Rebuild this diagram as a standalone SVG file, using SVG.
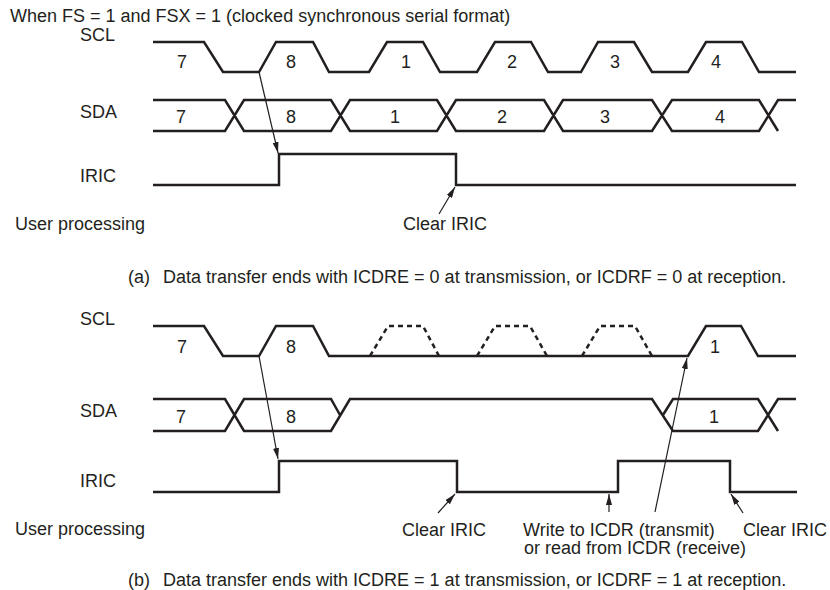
<svg xmlns="http://www.w3.org/2000/svg" width="830" height="590" viewBox="0 0 830 590">
<style>
text{font-family:"Liberation Sans",Arial,sans-serif;font-size:18px;fill:#231f20}
.d{text-anchor:middle}
.w{fill:none;stroke:#231f20;stroke-width:2.5;stroke-linejoin:miter}
.dash{fill:none;stroke:#231f20;stroke-width:2.5;stroke-dasharray:5 4}
.a{fill:none;stroke:#231f20;stroke-width:1.2}
</style>
<defs>
<marker id="ah" viewBox="0 0 11 6" refX="11" refY="3" markerWidth="11" markerHeight="6" orient="auto" markerUnits="userSpaceOnUse"><path d="M0,0 L11,3 L0,6 z" fill="#231f20"/></marker>
</defs>
<rect width="830" height="590" fill="#fff"/>
<text x="10" y="22">When FS = 1 and FSX = 1 (clocked synchronous serial format)</text>

<g id="a-scl">
<text x="80" y="41">SCL</text>
<path class="w" d="M153,42 H204 L223,72 H259 L276,42 H313 L329,72 H369 L387,42 H423 L440,72 H477 L495,42 H531 L548,72 H581 L598,42 H634 L652,72 H688 L706,42 H742 L759,72 H796"/>
<text class="d" x="182" y="68">7</text><text class="d" x="291" y="68">8</text><text class="d" x="406" y="68">1</text><text class="d" x="512" y="68">2</text><text class="d" x="615" y="68">3</text><text class="d" x="716" y="68">4</text>
</g>
<g id="a-sda">
<text x="80" y="118">SDA</text>
<path class="w" d="M153,100 H225 L244,131 H331 L350,100 H437 L456,131 H544 L563,100 H652 L672,131 H759 L778,100 H796 M153,131 H225 L244,100 H331 L350,131 H437 L456,100 H544 L563,131 H652 L672,100 H759 L778,131"/>
<text class="d" x="181" y="123">7</text><text class="d" x="291" y="123">8</text><text class="d" x="395" y="123">1</text><text class="d" x="502" y="123">2</text><text class="d" x="605" y="123">3</text><text class="d" x="720" y="123">4</text>
</g>
<g id="a-iric">
<text x="80" y="182">IRIC</text>
<path class="w" d="M153,185 H279 V154 H456 V185 H796"/>
</g>
<g id="a-user">
<text x="15" y="230">User processing</text>
<text x="403" y="230">Clear IRIC</text>
</g>
<text x="128" y="283">(a)<tspan x="163">Data transfer ends with ICDRE = 0 at transmission, or ICDRF = 0 at reception.</tspan></text>

<g id="b-scl">
<text x="80" y="325">SCL</text>
<path class="w" d="M153,326 H204 L223,356 H259 L276,326 H313 L329,356 H688 L706,326 H741 L758,356 H796"/>
<path class="dash" d="M370,356 L388,326 H423 L439,356 M477,356 L495,326 H530 L547,356 M582,356 L600,326 H635 L652,356"/>
<text class="d" x="182" y="353">7</text><text class="d" x="291" y="353">8</text><text class="d" x="715" y="353">1</text>
</g>
<g id="b-sda">
<text x="80" y="417">SDA</text>
<path class="w" d="M153,399 H225 L244,431 H331 L350,399 H652 L673,431 H758 L778,399 H796 M153,431 H225 L244,399 H331 L340,415 M663,415 L673,399 H758 L778,431"/>
<text class="d" x="181" y="423">7</text><text class="d" x="291" y="423">8</text><text class="d" x="714" y="423">1</text>
</g>
<g id="b-iric">
<text x="80" y="487">IRIC</text>
<path class="w" d="M153,492 H279 V461 H457 V492 H618 V461 H730 V492 H797"/>
</g>
<g id="b-user">
<text x="15" y="535">User processing</text>
<text x="402" y="536">Clear IRIC</text>
<text x="523" y="536">Write to ICDR (transmit)</text>
<text x="524" y="554">or read from ICDR (receive)</text>
<text x="743" y="536">Clear IRIC</text>
</g>
<text x="128" y="586">(b)<tspan x="163">Data transfer ends with ICDRE = 1 at transmission, or ICDRF = 1 at reception.</tspan></text>

<g id="connectors">
<path class="a" marker-end="url(#ah)" d="M259,72 L278,153"/>
<path class="a" marker-end="url(#ah)" d="M439,214 L455,187"/>
<path class="a" marker-end="url(#ah)" d="M259,356 L278,459"/>
<path class="a" marker-end="url(#ah)" d="M438,513 L455,494"/>
<path class="a" marker-end="url(#ah)" d="M609,512 L609,494"/>
<path class="a" marker-end="url(#ah)" d="M655,512 L687,358"/>
<path class="a" marker-end="url(#ah)" d="M743,513 L731,494"/>
</g>
</svg>
